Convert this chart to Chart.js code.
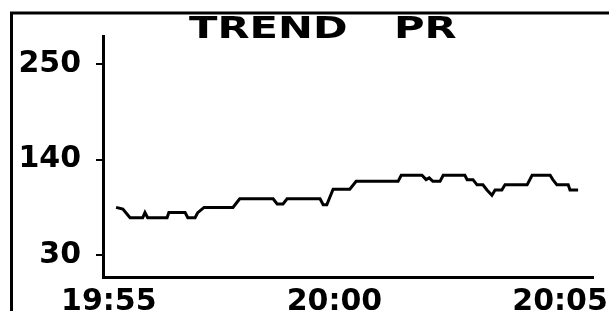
<!DOCTYPE html>
<html>
<head>
<meta charset="utf-8">
<script src="https://cdn.jsdelivr.net/npm/chart.js@4.4.1/dist/chart.umd.min.js"></script>
<style>
    html, body { margin: 0; padding: 0; background: #fff; }
    #wrap { width: 609px; height: 311px; }
</style>
</head>
<body>
<div id="wrap"><canvas id="trendChart" width="609" height="311"></canvas></div>
<script>
// minutes after 19:55 for each sample, and the PR reading at that time
const sampleMinutes = [0.16, 0.31, 0.47, 0.75, 0.80, 0.86, 1.29, 1.33, 1.69, 1.75, 1.91, 1.97,
    2.11, 2.75, 2.90, 3.64, 3.73, 3.86, 3.95, 4.68, 4.75, 4.83, 4.97, 5.34, 5.48,
    6.41, 6.48, 6.94, 7.03, 7.10, 7.18, 7.34, 7.41, 7.89, 7.94, 8.07, 8.16, 8.29,
    8.38, 8.49, 8.56, 8.71, 8.78, 9.27, 9.38, 9.78, 9.84, 9.93, 10.18, 10.22, 10.40];
const prValues = [85, 83, 73, 73, 79, 73, 73, 79, 79, 73, 73, 79,
    85, 85, 95, 95, 89, 89, 95, 95, 88, 88, 106, 106, 115,
    115, 122, 122, 117, 119, 115, 115, 122, 122, 117, 117, 111, 111,
    105, 99, 105, 105, 111, 111, 122, 122, 117, 111, 111, 105, 105];

const timeTicks = [0, 5, 10];
const timeLabels = ['19:55', '20:00', '20:05'];
const prTicks = [30, 140, 250];
const titleWords = ['TREND', 'PR'];

const lcdFont = { family: '"DejaVu Sans", sans-serif', size: 30, weight: 'bold' };

// black frame + stretched LCD style title
const lcdDecor = {
    id: 'lcdDecor',
    afterDraw(chart) {
        const ctx = chart.ctx;
        ctx.save();
        ctx.strokeStyle = '#000';
        ctx.lineWidth = 3;
        ctx.beginPath();
        ctx.moveTo(11.5, 311);
        ctx.lineTo(11.5, 13);
        ctx.lineTo(609, 13);
        ctx.stroke();

        ctx.fillStyle = '#000';
        ctx.font = 'bold 30px "DejaVu Sans"';
        ctx.textBaseline = 'alphabetic';
        const starts = [189, 394];
        titleWords.forEach((w, i) => {
            ctx.save();
            ctx.translate(starts[i], 38);
            ctx.scale(1.39, 1);
            ctx.fillText(w, 0, 0);
            ctx.restore();
        });
        ctx.restore();
    }
};

const ctx = document.getElementById('trendChart').getContext('2d');
new Chart(ctx, {
    type: 'line',
    data: {
        datasets: [{
            data: sampleMinutes.map((m, i) => ({ x: m, y: prValues[i] })),
            borderColor: '#000',
            borderWidth: 3,
            pointRadius: 0,
            tension: 0,
            fill: false
        }]
    },
    options: {
        responsive: false,
        animation: false,
        layout: { padding: { left: 0, top: 36, right: 16, bottom: 0 } },
        plugins: {
            legend: { display: false },
            title: { display: false },
            tooltip: { enabled: false }
        },
        scales: {
            x: {
                type: 'linear',
                min: -0.13,
                max: 10.73,
                afterBuildTicks: s => { s.ticks = timeTicks.map(v => ({ value: v })); },
                afterFit: s => { s.height = 34; s.paddingLeft = 0; s.paddingRight = 0; },
                grid: { display: false, drawTicks: false },
                border: { display: true, color: '#000', width: 3 },
                ticks: {
                    color: '#000',
                    font: lcdFont,
                    padding: 7,
                    maxRotation: 0,
                    autoSkip: false,
                    callback: v => timeLabels[timeTicks.indexOf(v)]
                }
            },
            y: {
                min: 4.8,
                max: 282.5,
                afterBuildTicks: s => { s.ticks = prTicks.map(v => ({ value: v })); },
                afterFit: s => { s.width = 103; },
                grid: { drawOnChartArea: false, drawTicks: true, tickLength: 7, lineWidth: 2, color: '#000' },
                border: { display: true, color: '#000', width: 3 },
                ticks: {
                    color: '#000',
                    font: lcdFont,
                    padding: 15
                }
            }
        }
    },
    plugins: [lcdDecor]
});
</script>
</body>
</html>
